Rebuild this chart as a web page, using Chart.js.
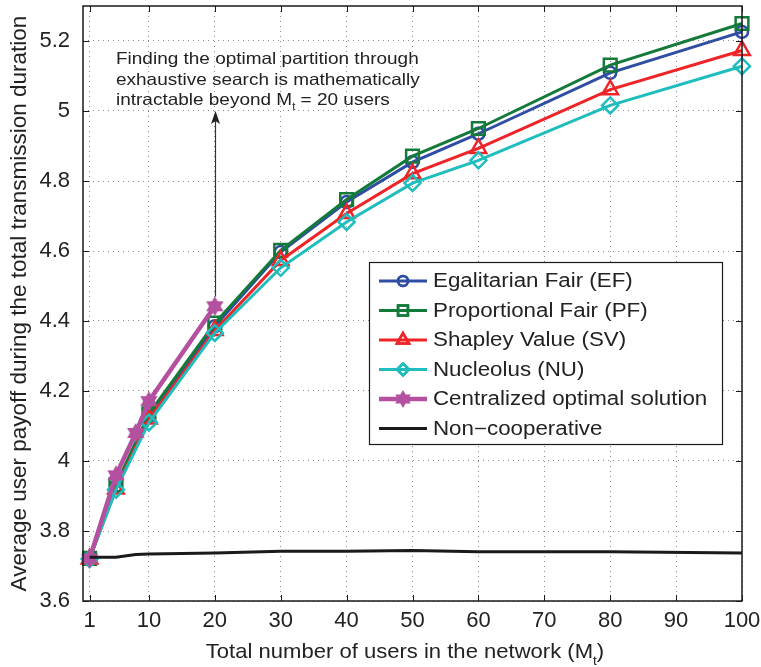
<!DOCTYPE html>
<html>
<head>
<meta charset="utf-8">
<script src="https://cdn.jsdelivr.net/npm/chart.js@4.4.1/dist/chart.umd.min.js"></script>
<style>
  html, body { margin: 0; padding: 0; background: #fff; }
  #wrap { width: 761px; height: 667px; }
</style>
</head>
<body>
<div id="wrap"><canvas id="myChart" width="761" height="667"></canvas></div>
<script>
// data
const coopUsers = [1, 5, 10, 20, 30, 40, 50, 60, 80, 100];
const efValues = [3.722, 3.928, 4.128, 4.385, 4.597, 4.740, 4.854, 4.935, 5.109, 5.226];
const pfValues = [3.722, 3.932, 4.135, 4.394, 4.602, 4.747, 4.871, 4.950, 5.131, 5.250];
const svValues = [3.720, 3.920, 4.120, 4.373, 4.573, 4.707, 4.821, 4.893, 5.061, 5.173];
const nuValues = [3.720, 3.918, 4.110, 4.366, 4.552, 4.683, 4.794, 4.859, 5.016, 5.128];
const centralUsers = [1, 5, 8, 10, 20];
const centralValues = [3.721, 3.959, 4.080, 4.171, 4.442];
const nonCoopUsers = [1, 5, 8, 10, 20, 30, 40, 50, 60, 80, 100];
const nonCoopValues = [3.725, 3.725, 3.733, 3.734, 3.737, 3.742, 3.742, 3.744, 3.741, 3.741, 3.737];

const xTicks = [1, 10, 20, 30, 40, 50, 60, 70, 80, 90, 100];
const yTicks = [3.6, 3.8, 4.0, 4.2, 4.4, 4.6, 4.8, 5.0, 5.2];

const seriesNames = [
    'Egalitarian Fair (EF)',
    'Proportional Fair (PF)',
    'Shapley Value (SV)',
    'Nucleolus (NU)',
    'Centralized optimal solution',
    'Non\u2212cooperative'
];

const FONT = '"Liberation Sans", Arial, Helvetica, sans-serif';
const TEXT = '#222';

function pts(xs, ys) {
    return xs.map((x, i) => ({ x: x, y: ys[i] }));
}

// filled six-pointed star for the centralized solution
function makeStar(r, color) {
    const c = document.createElement('canvas');
    c.width = c.height = r * 2 + 4;
    const g = c.getContext('2d');
    const cx = c.width / 2, cy = c.height / 2;
    g.fillStyle = color;
    g.beginPath();
    for (let i = 0; i < 12; i++) {
        const a = -Math.PI / 2 + i * Math.PI / 6;
        const rr = i % 2 === 0 ? r : r * 0.58;
        const px = cx + rr * Math.cos(a), py = cy + rr * Math.sin(a);
        if (i === 0) g.moveTo(px, py); else g.lineTo(px, py);
    }
    g.closePath();
    g.fill();
    return c;
}

const starColor = '#B3509F';
const starImg = makeStar(10, starColor);
const starSmall = makeStar(9, starColor);

const datasets = [
    { label: seriesNames[0], data: pts(coopUsers, efValues), borderColor: '#2E4DA3', pointStyle: 'circle', pointRadius: 6, borderWidth: 3, order: 6 },
    { label: seriesNames[1], data: pts(coopUsers, pfValues), borderColor: '#147A3A', pointStyle: 'rect', pointRadius: 9, borderWidth: 3, order: 5 },
    { label: seriesNames[2], data: pts(coopUsers, svValues), borderColor: '#EE2428', pointStyle: 'triangle', pointRadius: 9, borderWidth: 3, order: 4 },
    { label: seriesNames[3], data: pts(coopUsers, nuValues), borderColor: '#1FBDBD', pointStyle: 'rectRot', pointRadius: 8, borderWidth: 3, order: 3 },
    { label: seriesNames[4], data: pts(centralUsers, centralValues), borderColor: starColor, pointStyle: starImg, pointRadius: 10, borderWidth: 4.5, order: 2 },
    { label: seriesNames[5], data: pts(nonCoopUsers, nonCoopValues), borderColor: '#1A1A1A', pointStyle: false, pointRadius: 0, borderWidth: 3, order: 1 }
];
datasets.forEach(d => {
    d.backgroundColor = 'rgba(0,0,0,0)';
    d.pointBackgroundColor = 'rgba(0,0,0,0)';
    d.pointBorderColor = d.borderColor;
    d.pointBorderWidth = 2.5;
    d.tension = 0;
    d.fill = false;
    d.clip = false;
});

// box with inward ticks
const framePlugin = {
    id: 'frame',
    afterDatasetsDraw(chart) {
        const { ctx, chartArea: a, scales } = chart;
        ctx.save();
        ctx.strokeStyle = '#1a1a1a';
        ctx.lineWidth = 1.5;
        ctx.strokeRect(a.left, a.top, a.right - a.left, a.bottom - a.top);
        ctx.lineWidth = 1;
        ctx.beginPath();
        const t = 6;
        xTicks.forEach(v => {
            const x = Math.round(scales.x.getPixelForValue(v)) + 0.5;
            ctx.moveTo(x, a.bottom); ctx.lineTo(x, a.bottom - t);
            ctx.moveTo(x, a.top); ctx.lineTo(x, a.top + t);
        });
        yTicks.forEach(v => {
            const y = Math.round(scales.y.getPixelForValue(v)) + 0.5;
            ctx.moveTo(a.left, y); ctx.lineTo(a.left + t, y);
            ctx.moveTo(a.right, y); ctx.lineTo(a.right - t, y);
        });
        ctx.stroke();
        ctx.restore();
    }
};

// the figure's lettering is a bit wider than Arial, so stretch it sideways
function stretchText(ctx, text, x, y, sx) {
    ctx.save();
    ctx.translate(x, y);
    ctx.scale(sx, 1);
    ctx.fillText(text, 0, 0);
    ctx.restore();
}

// text with a subscript "t"
function drawSubText(ctx, parts, x, y, size, sx, align) {
    const subSize = Math.round(size * 0.62);
    ctx.font = size + 'px ' + FONT;
    const w0 = ctx.measureText(parts[0]).width * sx;
    ctx.font = subSize + 'px ' + FONT;
    const w1 = ctx.measureText(parts[1]).width * sx;
    ctx.font = size + 'px ' + FONT;
    const w2 = ctx.measureText(parts[2]).width * sx;
    const startX = align === 'center' ? x - (w0 + w1 + w2) / 2 : x;
    ctx.textAlign = 'left';
    ctx.textBaseline = 'alphabetic';
    stretchText(ctx, parts[0], startX, y, sx);
    ctx.font = subSize + 'px ' + FONT;
    stretchText(ctx, parts[1], startX + w0, y + size * 0.32, sx);
    ctx.font = size + 'px ' + FONT;
    stretchText(ctx, parts[2], startX + w0 + w1, y, sx);
}

const textPlugin = {
    id: 'texts',
    afterDraw(chart) {
        const { ctx, scales } = chart;
        ctx.save();
        ctx.fillStyle = TEXT;
        // x axis title
        drawSubText(ctx, ['Total number of users in the network (M', 't', ')'], 405, 658, 21, 1.05, 'center');

        // annotation
        ctx.font = '16.5px ' + FONT;
        ctx.textAlign = 'left';
        ctx.textBaseline = 'alphabetic';
        stretchText(ctx, 'Finding the optimal partition through', 116, 64, 1.15);
        stretchText(ctx, 'exhaustive search is mathematically', 116, 85, 1.15);
        drawSubText(ctx, ['intractable beyond M', 't', ' = 20 users'], 116, 105, 16.5, 1.15, 'left');

        // arrow
        const ax = Math.round(scales.x.getPixelForValue(20)) + 0.5;
        const yBottom = scales.y.getPixelForValue(4.47);
        const yTip = 111;
        ctx.strokeStyle = '#333';
        ctx.lineWidth = 1.2;
        ctx.beginPath();
        ctx.moveTo(ax, yBottom);
        ctx.lineTo(ax, yTip + 8);
        ctx.stroke();
        ctx.fillStyle = '#222';
        ctx.beginPath();
        ctx.moveTo(ax, yTip);
        ctx.lineTo(ax - 4.5, yTip + 13);
        ctx.lineTo(ax, yTip + 10);
        ctx.lineTo(ax + 4.5, yTip + 13);
        ctx.closePath();
        ctx.fill();

        // legend
        const L = { left: 369.5, top: 262.5, right: 722.5, bottom: 444.5 };
        ctx.fillStyle = '#fff';
        ctx.fillRect(L.left, L.top, L.right - L.left, L.bottom - L.top);
        ctx.strokeStyle = '#1a1a1a';
        ctx.lineWidth = 1.2;
        ctx.strokeRect(L.left, L.top, L.right - L.left, L.bottom - L.top);
        chart.data.datasets.forEach((d, i) => {
            const y = 281 + i * 29.5;
            ctx.strokeStyle = d.borderColor;
            ctx.lineWidth = d.borderWidth;
            ctx.beginPath();
            ctx.moveTo(379, y);
            ctx.lineTo(427, y);
            ctx.stroke();
            if (d.pointStyle) {
                ctx.lineWidth = 2.5;
                ctx.fillStyle = 'rgba(0,0,0,0)';
                Chart.helpers.drawPoint(ctx, {
                    pointStyle: typeof d.pointStyle === 'string' ? d.pointStyle : starSmall,
                    radius: d.pointStyle === 'circle' ? 5 : d.pointRadius - 2,
                    borderWidth: 2.5,
                    rotation: 0
                }, 403, y);
                if (typeof d.pointStyle === 'string') ctx.stroke();
            }
            ctx.fillStyle = TEXT;
            ctx.font = '19.5px ' + FONT;
            ctx.textAlign = 'left';
            ctx.textBaseline = 'middle';
            stretchText(ctx, d.label, 433, y + 1, 1.145);
        });
        ctx.restore();
    }
};

const ctx = document.getElementById('myChart').getContext('2d');
new Chart(ctx, {
    type: 'line',
    data: { datasets: datasets },
    options: {
        responsive: false,
        animation: false,
        events: [],
        layout: { autoPadding: false, padding: { left: 0, right: 19, top: 6, bottom: 0 } },
        plugins: {
            legend: { display: false },
            tooltip: { enabled: false }
        },
        scales: {
            x: {
                type: 'linear',
                min: 0,
                max: 100,
                afterBuildTicks: s => { s.ticks = xTicks.map(v => ({ value: v })); },
                afterFit: s => { s.height = 66; s.paddingLeft = 0; s.paddingRight = 0; },
                grid: { color: '#8a8a8a', lineWidth: 1, drawTicks: false },
                border: { display: false, dash: [1, 4] },
                ticks: { padding: 7, color: TEXT, font: { family: FONT, size: 22 }, maxRotation: 0, autoSkip: false }
            },
            y: {
                type: 'linear',
                min: 3.6,
                max: 5.3,
                afterBuildTicks: s => { s.ticks = yTicks.map(v => ({ value: v })); },
                afterFit: s => { s.width = 83; s.paddingTop = 0; s.paddingBottom = 0; },
                grid: { color: '#8a8a8a', lineWidth: 1, drawTicks: false },
                border: { display: false, dash: [1, 4] },
                ticks: {
                    padding: 13, color: TEXT, font: { family: FONT, size: 22 },
                    callback: v => String(+v.toFixed(1))
                },
                title: {
                    display: true,
                    text: 'Average user payoff during the total transmission duration',
                    color: TEXT,
                    font: { family: FONT, size: 22.5 },
                    padding: { top: 6, bottom: 0 }
                }
            }
        }
    },
    plugins: [framePlugin, textPlugin]
});
</script>
</body>
</html>
